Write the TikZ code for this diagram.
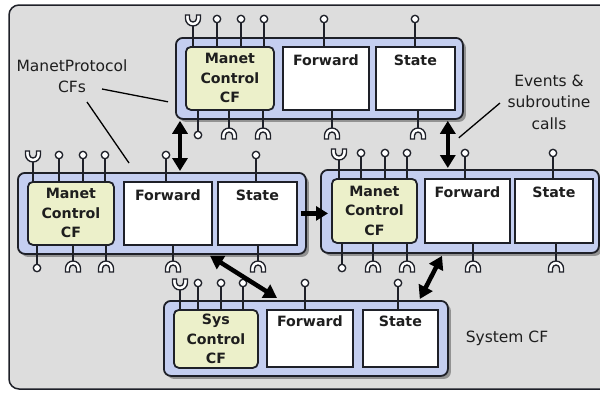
\documentclass[tikz,border=0pt]{standalone}
\usepackage{fontspec}
\setmainfont{DejaVu Sans}
\usetikzlibrary{arrows.meta,shadows,calc}
\definecolor{bgc}{RGB}{221,221,221}
\definecolor{bluef}{RGB}{196,206,240}
\definecolor{greenf}{RGB}{236,240,202}
\definecolor{linec}{RGB}{30,32,40}
\definecolor{txt}{RGB}{30,30,30}
\newcommand\mybox[6]{\node[#2, minimum width={((#5)-(#3))*1pt}, minimum height={((#6)-(#4))*1pt}] (#1) at (#3,#4) {};}
\newcommand\pinO[3]{\draw[pinl] (#1,#2) -- (#1,#3); \draw[pinl,fill=white] (#1,#3) circle[radius=3.7pt];}
\newcommand\pinU[3]{\draw[pinl] (#1,#2) -- (#1,{#3+7});
  \draw[pinl,fill=white] ({#1-7.5},{#3-4}) -- ({#1-7.5},{#3-0.5}) arc[start angle=180,end angle=360,radius=7.5pt]
  -- ({#1+7.5},{#3-4}) -- ({#1+3.5},{#3-4}) -- ({#1+3.5},{#3-0.5}) arc[start angle=0,end angle=-180,radius=3.5pt]
  -- ({#1-3.5},{#3-4}) -- cycle;}
\newcommand\pinA[3]{\draw[pinl] (#1,#2) -- (#1,{#3-7});
  \draw[pinl,fill=white] ({#1-7.5},{#3+4}) -- ({#1-7.5},{#3+0.5}) arc[start angle=180,end angle=0,radius=7.5pt]
  -- ({#1+7.5},{#3+4}) -- ({#1+3.5},{#3+4}) -- ({#1+3.5},{#3+0.5}) arc[start angle=0,end angle=180,radius=3.5pt]
  -- ({#1-3.5},{#3+4}) -- cycle;}
\begin{document}
\begin{tikzpicture}[x=1pt,y=-1pt,
  outerbox/.style={draw=linec, line width=1.8pt, fill=bluef, rounded corners=7pt, anchor=north west, inner sep=0pt,
    drop shadow={shadow xshift=3pt, shadow yshift=-3pt, fill=black!50, opacity=0.8}},
  ctrlbox/.style={draw=linec, line width=1.8pt, fill=greenf, rounded corners=5pt, anchor=north west, inner sep=0pt},
  plainbox/.style={draw=linec, line width=1.8pt, fill=white, anchor=north west, inner sep=0pt},
  pinl/.style={draw=linec, line width=1.35pt},
  ctrltext/.style={align=center, text=txt, inner sep=0pt, font=\bfseries\fontsize{14.2}{19.5}\selectfont},
  subtext/.style={anchor=base, text=txt, inner sep=0pt, font=\bfseries\fontsize{14.2}{19.5}\selectfont},
  lbl/.style={align=center, text=txt, inner sep=0pt, font=\fontsize{15.5}{21.5}\selectfont},
  leader/.style={draw=black, line width=1.3pt},
  dblarr/.style={arrows={Triangle[length=13pt,width=15pt]-Triangle[length=13pt,width=15pt]}, line width=4.5pt, draw=black},
  onearr/.style={arrows={-Triangle[length=12pt,width=14pt]}, line width=4.5pt, draw=black}]
\useasboundingbox (0,0) rectangle (600,392);
\begin{scope}
\clip (0,0) rectangle (600,392);
\draw[fill=bgc, draw=linec, line width=1.5pt, rounded corners=10pt] (9,5) rectangle (614,389);
\end{scope}

% ---- top module
\mybox{T}{outerbox}{175}{37}{462}{118}
\mybox{TG}{ctrlbox}{185}{46}{273}{109}
\mybox{TF}{plainbox}{282}{46}{368}{109}
\mybox{TS}{plainbox}{375}{46}{454}{109}
% ---- middle left module
\mybox{L}{outerbox}{17}{172}{305}{253}
\mybox{LG}{ctrlbox}{27}{181}{113}{244}
\mybox{LF}{plainbox}{123}{181}{211}{244}
\mybox{LS}{plainbox}{217}{181}{296}{244}
% ---- middle right module
\mybox{R}{outerbox}{320}{169}{598}{252}
\mybox{RG}{ctrlbox}{331}{178}{416}{242}
\mybox{RF}{plainbox}{424}{178}{509}{242}
\mybox{RS}{plainbox}{514}{178}{592}{242}
% ---- bottom module
\mybox{B}{outerbox}{163}{300}{447}{375}
\mybox{BG}{ctrlbox}{173}{309}{257}{367}
\mybox{BF}{plainbox}{266}{309}{352}{366}
\mybox{BS}{plainbox}{362}{309}{437}{366}

% texts
\node[ctrltext] at (TG.center) {Manet\\Control\\CF};
\node[subtext] at ([yshift=-19pt]TF.north) {Forward};
\node[subtext] at ([yshift=-19pt]TS.north) {State};
\node[ctrltext] at (LG.center) {Manet\\Control\\CF};
\node[subtext] at ([yshift=-19pt]LF.north) {Forward};
\node[subtext] at ([yshift=-19pt]LS.north) {State};
\node[ctrltext] at (RG.center) {Manet\\Control\\CF};
\node[subtext] at ([yshift=-19pt]RF.north) {Forward};
\node[subtext] at ([yshift=-19pt]RS.north) {State};
\node[ctrltext] at (BG.center) {Sys\\Control\\CF};
\node[subtext] at ([yshift=-17pt]BF.north) {Forward};
\node[subtext] at ([yshift=-17pt]BS.north) {State};

% pins top module
\pinU{193}{46}{19} \pinO{217}{46}{19} \pinO{241}{46}{19} \pinO{264}{46}{19} \pinO{324}{46}{19} \pinO{415}{46}{19}
\pinO{198}{109}{135} \pinA{229}{109}{135} \pinA{263}{109}{135} \pinA{332}{109}{135} \pinA{418}{109}{135}
% pins middle left
\pinU{33}{181}{155} \pinO{59}{181}{155} \pinO{83}{181}{155} \pinO{105}{181}{155} \pinO{166}{181}{155} \pinO{256}{181}{155}
\pinO{37}{244}{268} \pinA{73}{244}{268} \pinA{106}{244}{268} \pinA{173}{244}{268} \pinA{258}{244}{268}
% pins middle right
\pinU{339}{178}{153} \pinO{361}{178}{153} \pinO{385}{178}{153} \pinO{407}{178}{153} \pinO{465}{178}{153} \pinO{553}{178}{153}
\pinO{342}{242}{268} \pinA{373}{242}{268} \pinA{407}{242}{268} \pinA{473}{242}{268} \pinA{556}{242}{268}
% pins bottom
\pinU{180}{309}{283} \pinO{198}{309}{283} \pinO{221}{309}{283} \pinO{243}{309}{283} \pinO{305}{309}{283} \pinO{398}{309}{283}

% arrows
\draw[dblarr] ($(T.south west)+(5,1)$) -- ($(T.south west |- L.north)+(5,-1)$);
\draw[dblarr] ($(T.south east)+(-16,1)$) -- ($(T.south east |- R.north)+(-16,-1)$);
\draw[onearr] ($(L.east)+(-6,0)$) -- ($(L.east -| R.west)+(8,0)$);
\draw[dblarr] ($(L.south west)+(193,1)$) -- ($(B.north west)+(114,-2)$);
\draw[dblarr] ($(R.south west)+(122,2)$) -- ($(B.north east)+(-29,-1)$);

% labels and leaders
\node[lbl] (mp) at (72,76) {ManetProtocol\\CFs};
\node[lbl] (ev) at (549,102) {Events \&\\subroutine\\calls};
\node[lbl] (sys) at (507,338) {System CF};
\coordinate (cfsA) at (102,89);
\coordinate (cfsB) at (87,102);
\coordinate (evA) at (500,103);
\draw[leader] (cfsA) -- ($(T.south west)+(-7,-18)$);
\draw[leader] (cfsB) -- ($(L.north west)+(112,-9)$);
\draw[leader] (evA) -- ($(T.south east)+(-5,18)$);
\end{tikzpicture}
\end{document}
